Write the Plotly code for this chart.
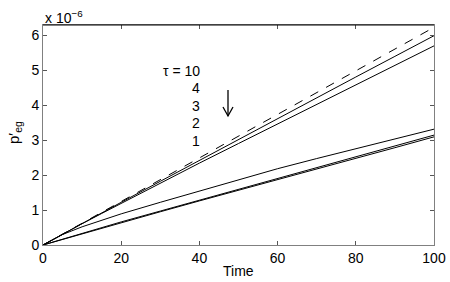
import plotly.graph_objects as go

# Time samples
time = [0, 5, 10, 15, 20, 30, 40, 50, 60, 70, 80, 90, 100]

# Values (units of 1e-6)
dashed = [0, 0.31, 0.62, 0.93, 1.24, 1.87, 2.49, 3.11, 3.73, 4.35, 4.98, 5.60, 6.22]
tau10 = [0, 0.31, 0.62, 0.92, 1.22, 1.82, 2.42, 3.02, 3.61, 4.20, 4.80, 5.39, 5.98]
tau4 = [0, 0.31, 0.61, 0.90, 1.19, 1.77, 2.34, 2.90, 3.46, 4.02, 4.58, 5.13, 5.69]
tau3 = [0, 0.30, 0.52, 0.70, 0.89, 1.22, 1.54, 1.86, 2.18, 2.47, 2.75, 3.03, 3.31]
tau2 = [0, 0.17, 0.34, 0.50, 0.66, 0.97, 1.28, 1.59, 1.90, 2.21, 2.52, 2.83, 3.14]
tau1 = [0, 0.16, 0.33, 0.48, 0.64, 0.95, 1.26, 1.56, 1.87, 2.17, 2.48, 2.78, 3.09]

x_ticks = [0, 20, 40, 60, 80, 100]
y_ticks = [0, 1, 2, 3, 4, 5, 6]
legend_labels = ["τ = 10", "4", "3", "2", "1"]

scale = 1e-6
FONT = "Liberation Sans, Arial, Helvetica, sans-serif"

fig = go.Figure()
for vals, dash in [(dashed, "dash"), (tau10, "solid"), (tau4, "solid"),
                   (tau3, "solid"), (tau2, "solid"), (tau1, "solid")]:
    fig.add_trace(go.Scatter(
        x=time, y=[v * scale for v in vals], mode="lines",
        line=dict(color="black", width=1, dash=dash), showlegend=False,
        hoverinfo="skip"))

W, H = 450, 282
L, R, T, B = 43, 434, 25, 245

def px(x):
    return (x - L) / (R - L)

def py(y):
    return (B - y) / (B - T)

axis_common = dict(ticks="inside", ticklen=4, tickcolor="#555", showgrid=False,
                   zeroline=False, showline=True, linecolor="#808080", linewidth=1,
                   mirror="ticks", tickfont=dict(size=14), fixedrange=True,
                   automargin=False)

fig.update_layout(
    width=W, height=H,
    margin=dict(l=L, r=W - R, t=T, b=H - B, autoexpand=False),
    paper_bgcolor="white", plot_bgcolor="white",
    font=dict(family=FONT, size=14, color="black"),
    xaxis=dict(range=[0, 100], tickvals=x_ticks, ticktext=[str(v) for v in x_ticks],
               **axis_common),
    yaxis=dict(range=[0, 6.286 * scale], tickvals=[v * scale for v in y_ticks],
               ticktext=[str(v) for v in y_ticks], **axis_common),
)

ann = []
ann.append(dict(text="Time", x=0.5, y=py(271), xref="paper", yref="paper",
                showarrow=False, font=dict(size=14), xanchor="center", yanchor="middle"))
ann.append(dict(text="p′<sub>eg</sub>", x=-(L - 14) / (R - L), y=py(133), xref="paper",
                yref="paper", showarrow=False, textangle=-90, font=dict(size=15),
                xanchor="center", yanchor="middle"))
ann.append(dict(text="x 10<sup>−6</sup>", x=0, y=py(17), xref="paper", yref="paper",
                showarrow=False, font=dict(size=14), xanchor="left", yanchor="middle"))
# legend-like text block
ann.append(dict(text=legend_labels[0], x=px(202), y=py(71), xref="paper", yref="paper",
                showarrow=False, font=dict(size=14), xanchor="right", yanchor="middle"))
for i, lab in enumerate(legend_labels[1:]):
    ann.append(dict(text=lab, x=px(202), y=py(88 + 17.6 * i), xref="paper", yref="paper",
                    showarrow=False, font=dict(size=14), xanchor="right", yanchor="middle"))
fig.update_layout(annotations=ann)

# top border darker, and the down arrow
fig.add_shape(type="line", xref="paper", yref="paper", x0=0, x1=1, y0=1, y1=1,
              line=dict(color="black", width=1))
fig.add_shape(type="line", xref="paper", yref="paper", x0=px(228), x1=px(228),
              y0=py(90), y1=py(116), line=dict(color="black", width=1.3))
fig.add_shape(type="path", xref="paper", yref="paper",
              path=f"M {px(223)} {py(107)} L {px(228)} {py(116)} L {px(233)} {py(107)}",
              line=dict(color="black", width=1.3))

fig.write_html("out.html", config={"displayModeBar": False},
               post_script="document.body.style.margin='0';document.body.style.overflow='hidden';")
